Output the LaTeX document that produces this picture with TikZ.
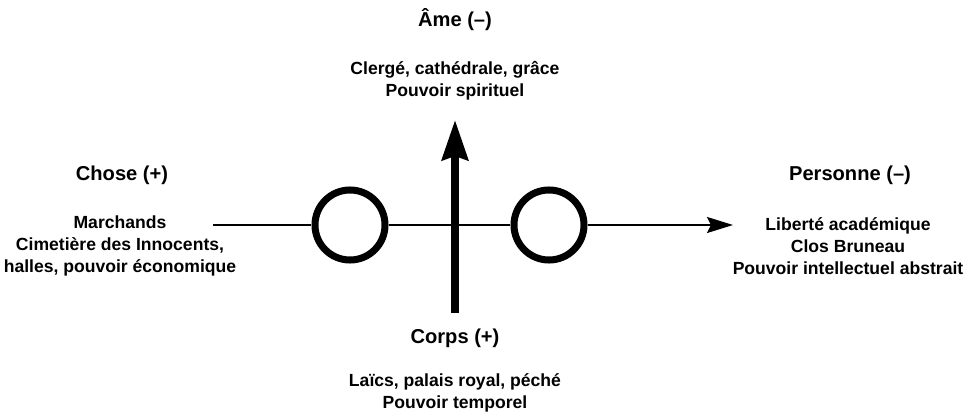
\documentclass[tikz,border=0pt]{standalone}
\usepackage{fontspec}
\setmainfont{Liberation Sans}
\usetikzlibrary{arrows.meta}

\begin{document}
\begin{tikzpicture}[x=0.025cm, y=-0.025cm,
	txt/.style={align=center, inner sep=0pt, font=\bfseries\fontsize{12.5}{15.5}\selectfont},
	pole/.style={txt, font=\bfseries\fontsize{14.3}{17}\selectfont},
	ring/.style={draw, circle, line width=0.175cm, minimum size=1.75cm, inner sep=0pt},
	thinarrow/.style={line width=0.045cm, -{Stealth[length=0.65cm, width=0.4cm, inset=0.1cm]}},
	thickarrow/.style={line width=0.19cm, -{Stealth[length=1cm, width=0.65cm, inset=0.1cm]}}]

\useasboundingbox (0,0) rectangle (971,418);

% the two axes
\coordinate (hstart) at (213,225);
\coordinate (hend) at (733,225);
\coordinate (vbot) at (455,313);
\coordinate (vtop) at (455,120);

\foreach \n/\x in {ringl/350, ringr/549}{
	\node[ring] (\n) at (\x,225) {};
}

\draw[line width=0.045cm] (hstart) -- (ringl) -- (ringr);
\draw[thinarrow] (ringr) -- (hend);
\draw[thickarrow] (vbot) -- (vtop);

% poles
\node[pole] (ame) at (455,20) {Âme (–)};
\node[txt] (amelist) at (455,81) {Clergé, cathédrale, grâce\\Pouvoir spirituel};
\node[pole] (corps) at (455,338) {Corps (+)};
\node[txt] (corpslist) at (455,393) {Laïcs, palais royal, péché\\Pouvoir temporel};
\node[pole] (chose) at (122,175) {Chose (+)};
\node[txt] (choselist) at (120,246) {Marchands\\Cimetière des Innocents,\\halles, pouvoir économique};
\node[pole] (personne) at (850,175) {Personne (–)};
\node[txt] (personnelist) at (848,246) {Liberté académique\\Clos Bruneau\\Pouvoir intellectuel abstrait};

\end{tikzpicture}
\end{document}
